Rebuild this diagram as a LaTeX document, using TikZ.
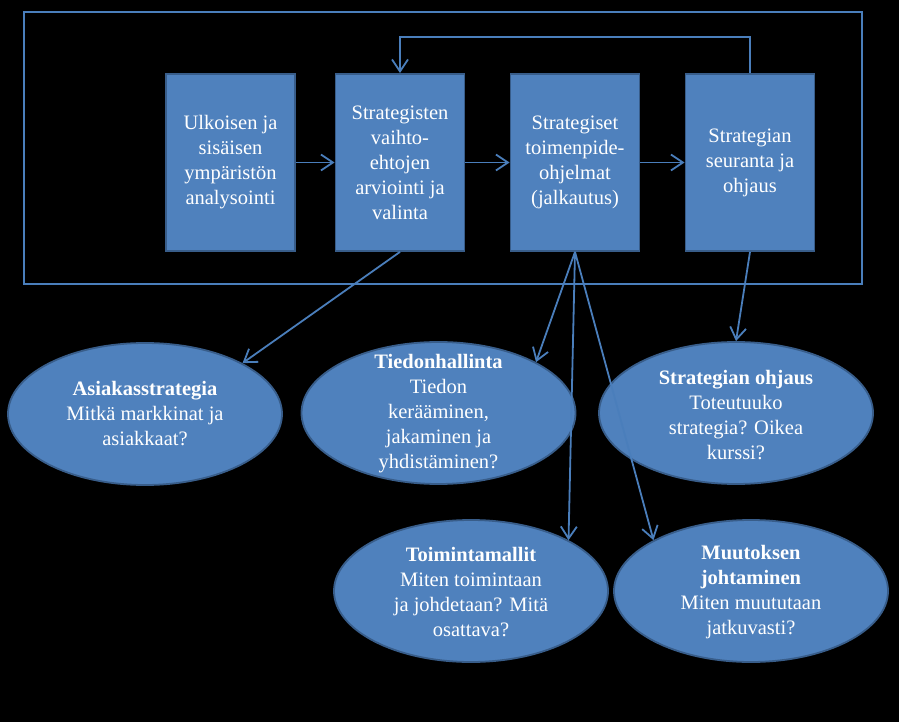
\documentclass[tikz,border=0pt]{standalone}
\usepackage{fontspec}
\setmainfont{Liberation Serif}
\usetikzlibrary{arrows.meta,shapes.geometric}
\definecolor{boxfill}{HTML}{4F81BD}
\definecolor{boxline}{HTML}{385D8A}
\definecolor{conncol}{HTML}{4A7EBB}
\tikzset{
  stepbox/.style={draw=boxline, line width=1.8pt, fill=boxfill, minimum width=129pt, minimum height=177pt, inner sep=0pt, align=center, text=white, font=\fontsize{20.5}{25}\selectfont},
  ell/.style={ellipse, draw=boxline, line width=1.8pt, fill=boxfill, minimum width=274pt, minimum height=142pt, inner sep=0pt},
  etext/.style={align=center, text=white, inner sep=0pt, font=\fontsize{20.5}{25}\selectfont},
  conn/.style={draw=conncol, line width=1.8pt, -{Straight Barb[length=12pt,width=16pt,line width=1.8pt]}},
  plainline/.style={draw=conncol, line width=1.8pt},
  frame/.style={draw=conncol, line width=1.8pt, minimum width=838pt, minimum height=272pt, inner sep=0pt}
}
\begin{document}
\begin{tikzpicture}[x=1pt,y=-1pt]
\fill[black] (0,0) rectangle (899,722);
\useasboundingbox (0,0) rectangle (899,722);

\node[frame] (fr) at (443,148) {};

\node[stepbox] (b1) at (230.5,162.5) {Ulkoisen ja\\sisäisen\\ympäristön\\analysointi};
\node[stepbox] (b2) at (400,162.5) {Strategisten\\vaihto-\\ehtojen\\arviointi ja\\valinta};
\node[stepbox] (b3) at (575,162.5) {Strategiset\\toimenpide-\\ohjelmat\\(jalkautus)};
\node[stepbox] (b4) at (750,162.5) {Strategian\\seuranta ja\\ohjaus};

\node[ell] (e1) at (145,414) {};
\node[etext] (t1) at (e1.center) {\textbf{Asiakasstrategia}\\Mitkä markkinat ja\\asiakkaat?};
\node[ell] (e2) at (438.5,413) {};
\node[etext] (t2) at (438.5,414) {\textbf{Tiedonhallinta}\\Tiedon\\kerääminen,\\jakaminen ja\\yhdistäminen?};
\node[ell] (e3) at (736,413) {};
\node[etext] (t3) at (736,415) {\textbf{Strategian ohjaus}\\Toteutuuko\\strategia? Oikea\\kurssi?};
\node[ell] (e4) at (471,591) {};
\node[etext] (t4) at (471,592) {\textbf{Toimintamallit}\\Miten toimintaan\\ja johdetaan? Mitä\\osattava?};
\node[ell] (e5) at (751,591) {};
\node[etext] (t5) at (751,592) {\textbf{Muutoksen}\\\textbf{johtaminen}\\Miten muututaan\\jatkuvasti?};

\draw[conn] (b1.east) -- (b2.west);
\draw[conn] (b2.east) -- (b3.west);
\draw[conn] (b3.east) -- (b4.west);
\coordinate (loopR) at (750,37);
\draw[conn] (b4.north) -- (loopR) -| (b2.north);

\draw[conn] (b2.south) -- (e1.north east);
\draw[conn] (b3.south) -- (e2.north east);
\draw[conn] (b3.south) -- (e4.north east);
\draw[conn] (b3.south) -- (e5.north west);
\draw[conn] (b4.south) -- (e3.north);
\end{tikzpicture}
\end{document}
